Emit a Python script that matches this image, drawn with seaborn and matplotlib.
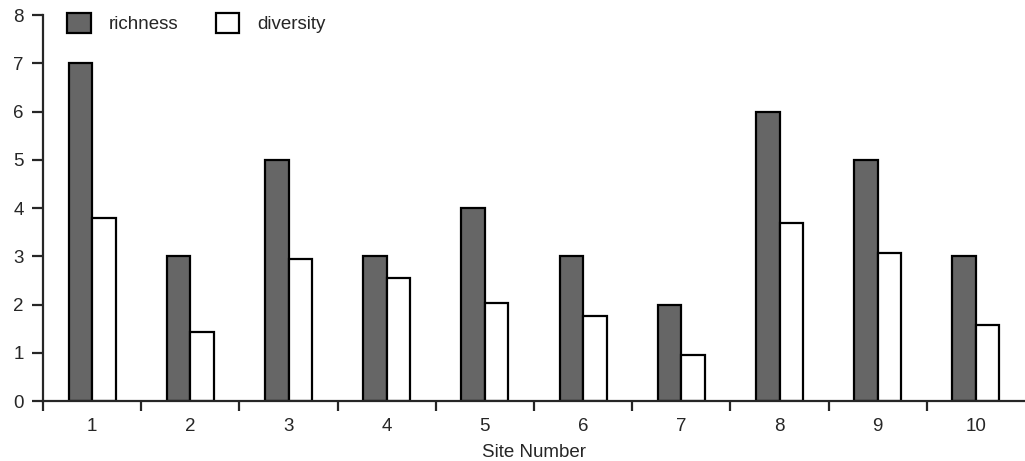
import numpy as np
import pandas as pd
import seaborn as sns
import matplotlib.pyplot as plt

# Valores
sites = ['1', '2', '3', '4', '5', '6', '7', '8', '9', '10']
richness = [7, 3, 5, 3, 4, 3, 2, 6, 5, 3]
diversity = [3.8, 1.43, 2.94, 2.55, 2.03, 1.76, 0.95, 3.7, 3.08, 1.57]

df = pd.DataFrame({
    'site': sites * 2,
    'value': richness + diversity,
    'measure': ['richness'] * len(sites) + ['diversity'] * len(sites),
})

sns.set_style('ticks')
plt.rcParams['font.family'] = ['Liberation Sans', 'DejaVu Sans']

fig, ax = plt.subplots(figsize=(10.25, 4.61), dpi=100)
fig.subplots_adjust(left=0.042, right=1.0, bottom=0.13, top=0.967)

sns.barplot(data=df, x='site', y='value', hue='measure',
            palette={'richness': '#666666', 'diversity': 'white'},
            edgecolor='black', linewidth=1.6, width=0.48, gap=0,
            saturation=1, ax=ax)

ax.set_xlim(-0.5, 9.5)
ax.set_ylim(0, 8)
ax.set_yticks(range(0, 9))
ax.set_xticks(np.arange(-0.5, 9.5, 1.0), minor=True)
ax.tick_params(axis='x', which='major', length=0, labelsize=13.5, pad=12)
ax.tick_params(axis='x', which='minor', length=7.5, width=1.6, direction='out')
ax.tick_params(axis='y', length=8, width=1.6, labelsize=13.5, pad=6)

ax.set_xlabel('Site Number', fontsize=13.5, labelpad=7)
ax.set_ylabel('')

sns.despine(ax=ax)
for side in ['left', 'bottom']:
    ax.spines[side].set_linewidth(1.6)

ax.legend(loc='upper left', bbox_to_anchor=(0.015, 1.03), ncol=2,
          frameon=False, fontsize=13.5, handlelength=1.25, handleheight=1.25,
          handletextpad=0.95, columnspacing=2.0, borderpad=0)

plt.savefig('out.png', dpi=100)
